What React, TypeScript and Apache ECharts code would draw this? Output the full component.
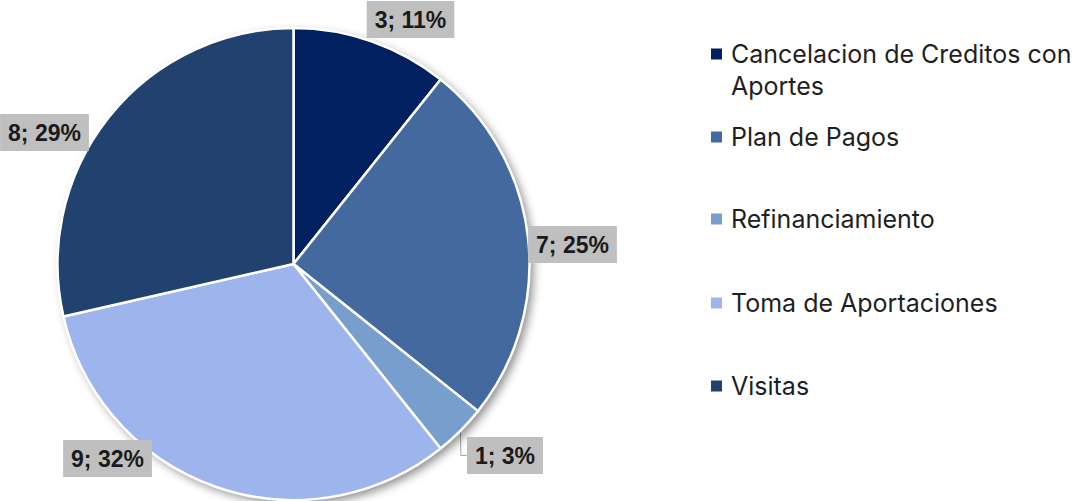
import React, { useEffect, useRef } from "react";
import * as echarts from "echarts";

const categories = [
  "Cancelacion de Creditos con Aportes",
  "Plan de Pagos",
  "Refinanciamiento",
  "Toma de Aportaciones",
  "Visitas",
];
const values = [3, 7, 1, 9, 8];
const percentLabels = ["11%", "25%", "3%", "32%", "29%"];
const colors = ["#002060", "#44699E", "#789ECD", "#9DB5EC", "#21426F"];

const LEGEND_FONT = "Inter, 'Noto Sans', sans-serif";

export default function App() {
  const ref = useRef<HTMLDivElement>(null);

  useEffect(() => {
    document.body.style.margin = "0";
    if (!ref.current) return;
    const chart = echarts.init(ref.current, null, { renderer: "svg" });

    const center = [293.5, 264];
    const radius = 236;

    const labelCenters = [
      [410.5, 19.5],
      [572.5, 244.5],
      [505, 455.5],
      [107.5, 458.5],
      [44.5, 132.5],
    ];
    const legendCenters = [54, 137, 219, 303, 386];

    const legends = categories.map((name, i) => ({
      show: true,
      data: [name],
      left: 711,
      top: legendCenters[i] - 15,
      padding: 0,
      orient: "vertical",
      icon: "rect",
      itemWidth: 11,
      itemHeight: 11,
      itemStyle: { borderWidth: 0 },
      selectedMode: false,
      formatter: (n: string) =>
        n === categories[0] ? "Cancelacion de Creditos con" : n,
      textStyle: {
        fontFamily: LEGEND_FONT,
        fontSize: 25,
        color: "#1f1f1f",
        lineHeight: 30,
        padding: [0, 0, 0, 4],
      },
    }));

    chart.setOption({
      animation: false,
      legend: legends,
      graphic: [
        {
          type: "text",
          left: 731,
          top: 86 - 15,
          style: {
            text: "Aportes",
            fontFamily: LEGEND_FONT,
            fontSize: 25,
            fill: "#1f1f1f",
            lineHeight: 30,
          },
        },
      ],
      series: [
        {
          type: "pie",
          name: "shadow",
          center,
          radius,
          silent: true,
          label: { show: false },
          labelLine: { show: false },
          itemStyle: {
            color: "#ffffff",
            shadowBlur: 10,
            shadowOffsetX: 4,
            shadowOffsetY: 4,
            shadowColor: "rgba(0,0,0,0.45)",
          },
          data: [{ value: 1, name: "__bg" }],
        },
        {
          type: "pie",
          name: "main",
          center,
          radius,
          startAngle: 90,
          clockwise: true,
          avoidLabelOverlap: false,
          itemStyle: { borderColor: "#ffffff", borderWidth: 2.5 },
          label: {
            show: true,
            position: "outside",
            formatter: (p: any) => `${values[p.dataIndex]}; ${percentLabels[p.dataIndex]}`,
            backgroundColor: "#BFBFBF",
            padding: [7, 8, 7, 8],
            fontFamily: "'Liberation Sans', Arial, sans-serif",
            fontWeight: "bold",
            fontSize: 23,
            color: "#1a1a1a",
          },
          labelLine: { show: false },
          labelLayout: (p: any) => {
            const c = labelCenters[p.dataIndex];
            return { x: c[0], y: c[1], align: "center", verticalAlign: "middle" };
          },
          data: categories.map((name, i) => ({
            name,
            value: values[i],
            itemStyle: { color: colors[i] },
            labelLine:
              i === 2
                ? { show: true, length: 2, length2: 6, lineStyle: { color: "#A6A6A6", width: 1 } }
                : { show: false },
          })),
        },
      ],
    });

    return () => chart.dispose();
  }, []);

  return <div ref={ref} style={{ width: 1082, height: 501 }} />;
}
